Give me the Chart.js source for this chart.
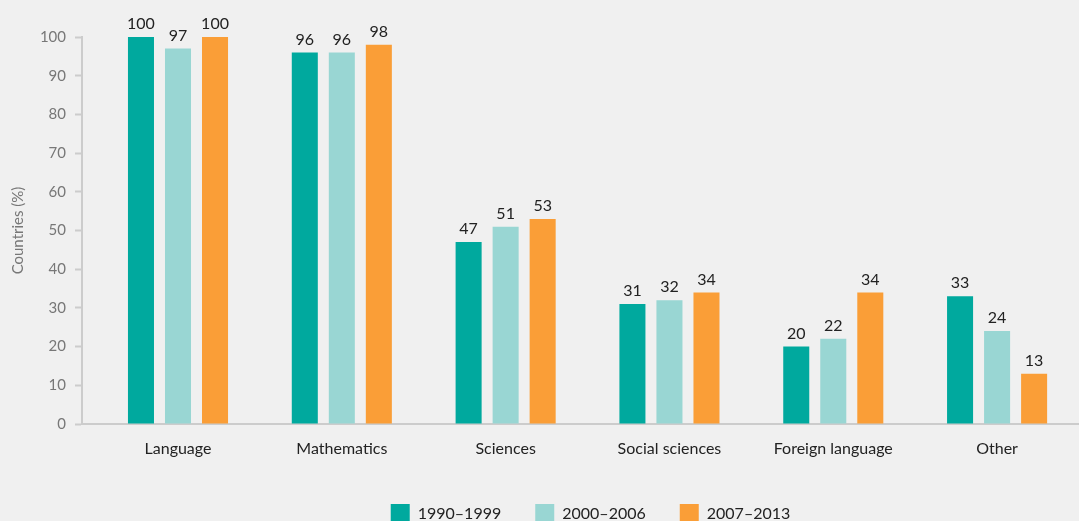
<!DOCTYPE html>
<html>
<head>
<meta charset="utf-8">
<script src="https://cdn.jsdelivr.net/npm/chart.js@4/dist/chart.umd.min.js"></script>
<style>
  html, body { margin: 0; padding: 0; background: #f0f0f0; overflow: hidden; }
  #wrap { width: 1079px; height: 533px; position: relative; }
</style>
</head>
<body>
<div id="wrap"><canvas id="chart"></canvas></div>
<script>
const categories = ['Language', 'Mathematics', 'Sciences', 'Social sciences', 'Foreign language', 'Other']
const series_names = ['1990–1999', '2000–2006', '2007–2013']
const values_1990 = [100, 96, 47, 31, 20, 33]
const values_2000 = [97, 96, 51, 32, 22, 24]
const values_2007 = [100, 98, 53, 34, 34, 13]
const y_ticks = [0, 10, 20, 30, 40, 50, 60, 70, 80, 90, 100]

const colors = ['#00a99e', '#99d6d3', '#fa9e37']
const FONT = 'Lato'

function to_points(arr)
{
    return arr.map((v, i) => ({x: i, y: v}))
}

// value labels above each bar
const bar_labels = {
    id: 'bar_labels',
    afterDatasetsDraw(chart) {
        const ctx = chart.ctx
        ctx.save()
        ctx.font = '16px ' + FONT
        ctx.fillStyle = '#222'
        ctx.textAlign = 'center'
        ctx.textBaseline = 'bottom'
        chart.data.datasets.forEach((ds, di) => {
            chart.getDatasetMeta(di).data.forEach((el, i) => {
                ctx.fillText(ds.data[i].y, el.x, el.y - 5)
            })
        })
        ctx.restore()
    }
}

// legend in the source sits a bit right of the canvas centre
const legend_shift = {
    id: 'legend_shift',
    afterLayout(chart) {
        chart.legend.left += 51
        chart.legend.right += 51
    }
}

new Chart(document.getElementById('chart'), {
    type: 'bar',
    data: {
        datasets: [
            { label: series_names[0], data: to_points(values_1990), backgroundColor: colors[0] },
            { label: series_names[1], data: to_points(values_2000), backgroundColor: colors[1] },
            { label: series_names[2], data: to_points(values_2007), backgroundColor: colors[2] }
        ]
    },
    options: {
        animation: false,
        responsive: true,
        maintainAspectRatio: false,
        categoryPercentage: 0.678,
        barPercentage: 0.703,
        layout: { padding: { top: 37, right: 0, left: 0, bottom: 0 } },
        plugins: {
            tooltip: { enabled: false },
            legend: {
                position: 'bottom',
                labels: {
                    boxWidth: 19,
                    boxHeight: 19,
                    padding: 34,
                    color: '#222',
                    font: { family: FONT, size: 16 }
                }
            }
        },
        scales: {
            x: {
                type: 'linear',
                bounds: 'data',
                min: -0.586,
                max: 5.5,
                offset: false,
                afterBuildTicks: s => { s.ticks = categories.map((c, i) => ({value: i})) },
                afterFit: s => { s.height = 46 },
                grid: { display: false, drawTicks: false, tickLength: 0 },
                border: { display: true, color: '#cccccc', width: 2 },
                ticks: {
                    autoSkip: false,
                    maxRotation: 0,
                    padding: 15,
                    color: '#222',
                    font: { family: FONT, size: 16 },
                    callback: v => categories[v] ?? ''
                }
            },
            y: {
                min: 0,
                max: 100,
                afterBuildTicks: s => { s.ticks = y_ticks.map(v => ({value: v})) },
                afterFit: s => { s.width = 82 },
                grid: { drawOnChartArea: false, color: '#cccccc', tickLength: 7, tickWidth: 2 },
                border: { color: '#cccccc', width: 2 },
                ticks: {
                    padding: 9,
                    color: '#777',
                    font: { family: FONT, size: 15 }
                },
                title: {
                    display: true,
                    text: 'Countries (%)',
                    color: '#777',
                    padding: { top: 9, bottom: 0 },
                    font: { family: FONT, size: 15 }
                }
            }
        }
    },
    plugins: [bar_labels, legend_shift]
})
</script>
</body>
</html>
